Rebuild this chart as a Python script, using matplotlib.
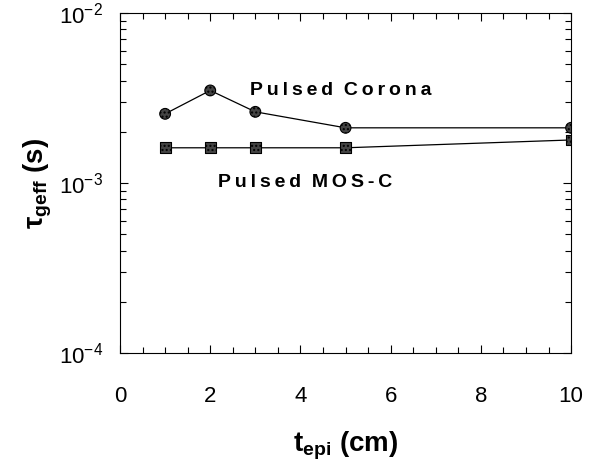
import matplotlib
matplotlib.use("Agg")
import matplotlib.pyplot as plt
from matplotlib.ticker import MultipleLocator, LogLocator, FixedLocator

plt.rcParams["font.family"] = ["Liberation Sans", "DejaVu Sans"]
plt.rcParams["axes.unicode_minus"] = False
plt.rcParams["mathtext.fontset"] = "custom"
plt.rcParams["mathtext.rm"] = "Liberation Sans"
plt.rcParams["mathtext.it"] = "Liberation Sans"
plt.rcParams["mathtext.bf"] = "Liberation Sans:bold"

t_epi = [1, 2, 3, 5, 10]
tau_corona = [2.55e-3, 3.5e-3, 2.62e-3, 2.11e-3, 2.11e-3]
tau_mosc = [1.61e-3, 1.61e-3, 1.61e-3, 1.61e-3, 1.79e-3]


def spaced(s):
    # widen letter spacing with thin spaces
    return "\u2009".join(s)


fig = plt.figure(figsize=(5.98, 4.62), dpi=100)
ax = fig.add_axes([0.2007, 0.236, 0.7543, 0.736])

ax.plot(t_epi, tau_corona, color="black", lw=0.9, zorder=2)
ax.plot(t_epi, tau_mosc, color="black", lw=0.9, zorder=2)
ax.scatter(t_epi, tau_corona, s=60, marker="o", facecolor="#444444",
           edgecolor="black", hatch="....", lw=0.8, zorder=3)
ax.scatter(t_epi, tau_mosc, s=60, marker="s", facecolor="#444444",
           edgecolor="black", hatch="....", lw=0.8, zorder=3)

ax.set_yscale("log")
ax.set_xlim(0, 10)
ax.set_ylim(1e-4, 1e-2)
ax.xaxis.set_major_locator(MultipleLocator(2))
ax.xaxis.set_minor_locator(MultipleLocator(0.5))
ax.yaxis.set_major_locator(FixedLocator([1e-4, 1e-3, 1e-2]))
ax.yaxis.set_minor_locator(LogLocator(base=10, subs=range(2, 10)))
ax.set_yticklabels([r"$10^{-4}$", r"$10^{-3}$", r"$10^{-2}$"])

ax.tick_params(which="both", direction="in", top=True, right=True,
               labelsize=16)
ax.tick_params(axis="x", pad=24)
ax.tick_params(axis="y", pad=12)
ax.tick_params(which="major", length=6, width=0.8)
ax.tick_params(which="minor", length=4, width=0.8)
for sp in ax.spines.values():
    sp.set_linewidth(0.8)

ax.text(4.9, 3.5e-3, spaced("Pulsed") + "  " + spaced("Corona"),
        fontsize=14, fontweight="bold", ha="center", va="center")
ax.text(4.1, 1.0e-3, spaced("Pulsed") + "  " + spaced("MOS-C"),
        fontsize=14, fontweight="bold", ha="center", va="center")

ax.set_xlabel(r"$\mathbf{t_{epi}}$ (cm)", fontsize=20, fontweight="bold",
              labelpad=16)
ax.set_ylabel(r"$\mathbf{\tau_{geff}}$ (s)", fontsize=20, fontweight="bold",
              labelpad=4)

fig.savefig("out.png", dpi=100)
